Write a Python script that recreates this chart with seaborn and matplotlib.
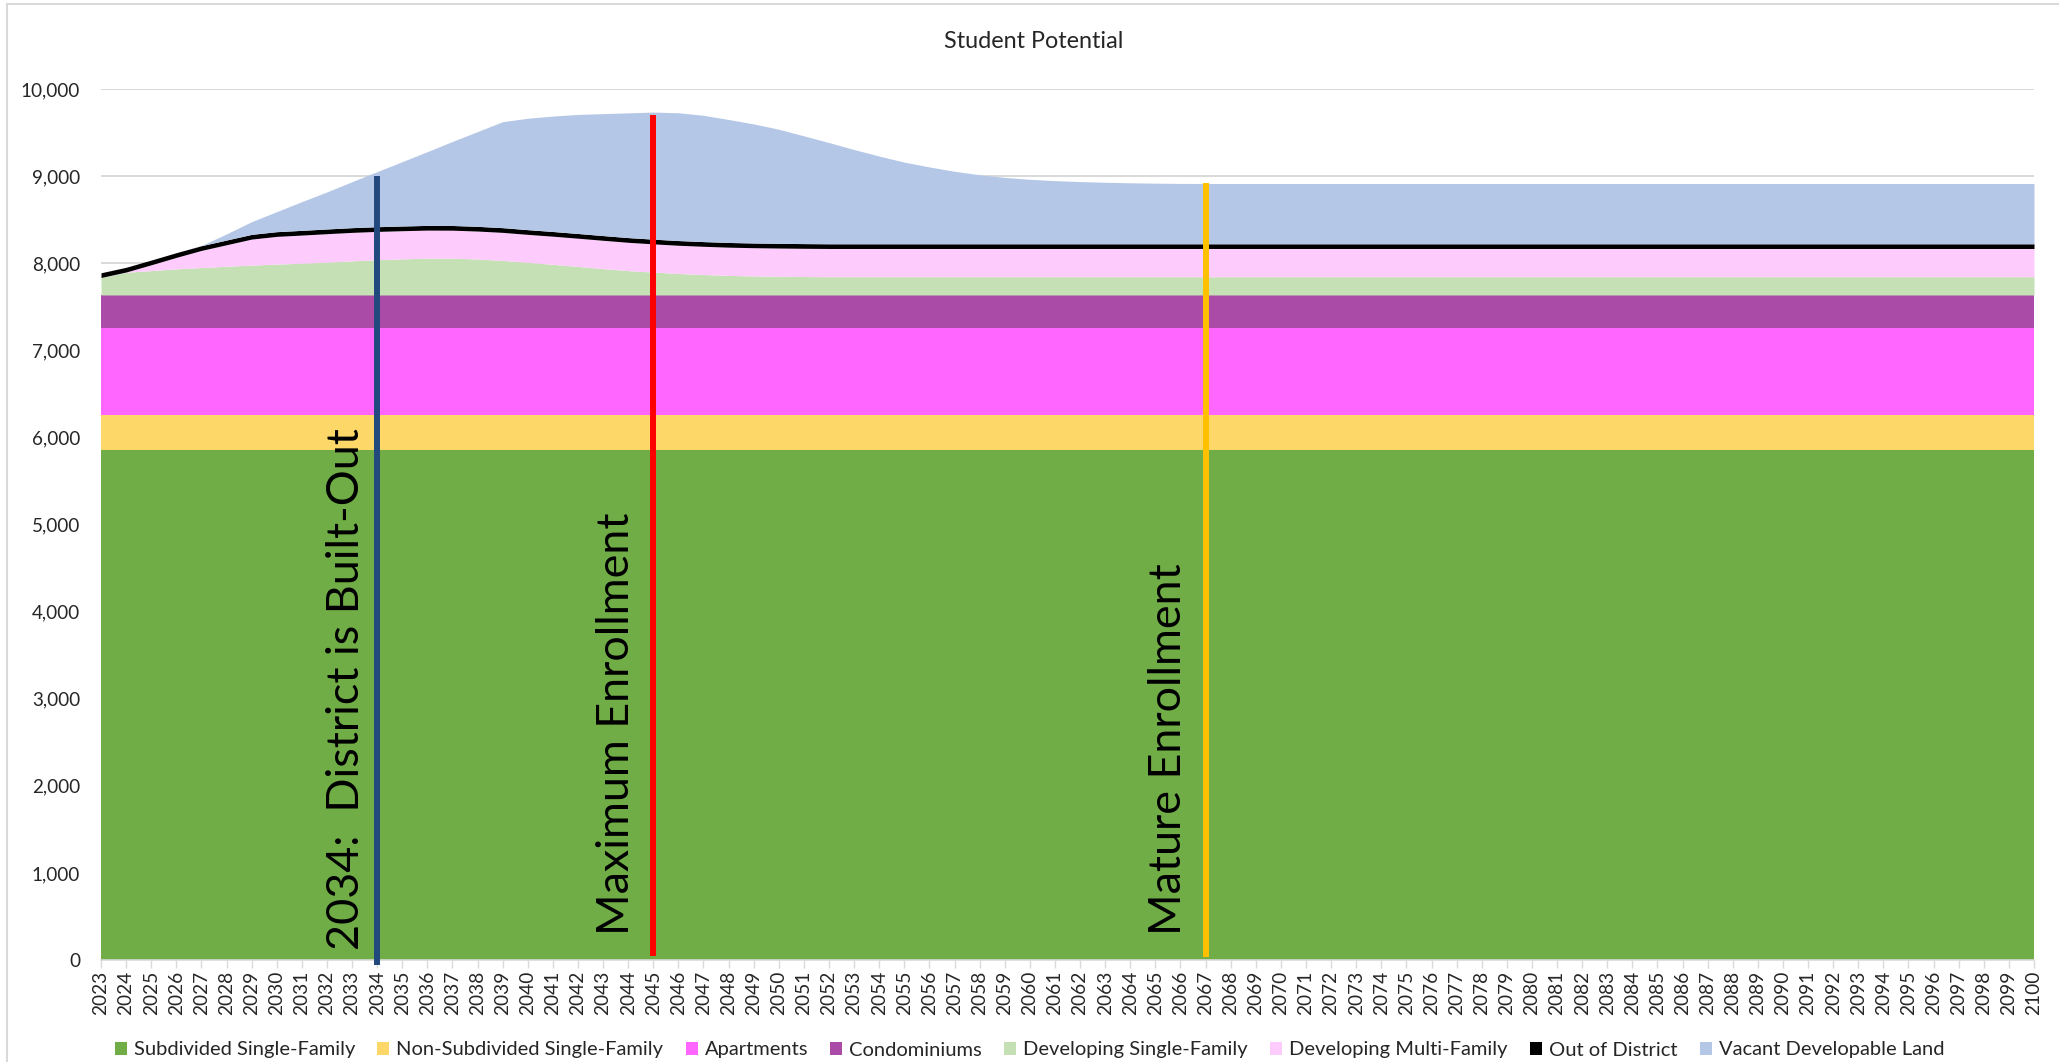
import numpy as np
import matplotlib
matplotlib.use("Agg")
import matplotlib.pyplot as plt
from matplotlib.patches import Patch
from matplotlib.lines import Line2D
from matplotlib.ticker import FuncFormatter
import seaborn as sns

# Data (students)
years = list(range(2023, 2101))
n = len(years)

subdivided_sf = [5860] * n
non_subdivided_sf = [400] * n
apartments = [1000] * n
condominiums = [375] * n
developing_sf = [201, 260, 280, 300, 315, 330, 343, 355, 365, 377,
                 392, 405, 415, 423, 423, 413, 397, 375, 352, 328,
                 303, 280, 263, 247, 235, 225, 219, 215, 212] + [210] * 49
developing_mf = [0, 4, 67, 132, 197, 247, 299, 318, 323, 327,
                 327, 325, 323, 322, 321, 321, 322, 321, 323, 324,
                 325, 325, 324, 324, 324, 324, 324, 324, 324] + [324] * 49
out_of_district = [54] * n
vacant_land = [0, 0, 0, 0, 2, 70, 146, 230, 330, 425,
               528, 632, 739, 847, 965, 1088, 1217, 1279, 1325, 1367,
               1400, 1432, 1459, 1467, 1450, 1412, 1367, 1310, 1237, 1162,
               1082, 1007, 937, 882, 832, 792, 762, 740, 725, 714,
               706, 700, 696, 693] + [692] * 34

series_names = ['Subdivided Single-Family', 'Non-Subdivided Single-Family', 'Apartments',
                'Condominiums', 'Developing Single-Family', 'Developing Multi-Family',
                'Out of District', 'Vacant Developable Land']
series_colors = ['#70AD47', '#FDD868', '#FF66FF', '#AA4BA8',
                 '#C6E0B5', '#FDCCFD', '#000000', '#B4C7E7']

# marker lines: (year, top value, bottom value, colour, label, label x, label y)
markers = [
    (2034, 9000, -60, '#22497E', '2034:  District is Built-Out', 2033.6, 110),
    (2045, 9700, 45, '#FF0000', 'Maximum Enrollment', 2044.35, 290),
    (2067, 8920, 35, '#FFC000', 'Mature Enrollment', 2066.35, 290),
]

sns.set_theme(style='white')
plt.rcParams['font.family'] = ['Lato', 'DejaVu Sans']

fig = plt.figure(figsize=(20.59, 10.62), dpi=100)
ax = fig.add_axes([101 / 2059, 1 - 960 / 1062, (2034 - 101) / 2059, (960 - 89) / 1062])

palette = sns.color_palette(series_colors)
ax.stackplot(years, subdivided_sf, non_subdivided_sf, apartments, condominiums,
             developing_sf, developing_mf, out_of_district, vacant_land,
             colors=palette, linewidth=0, zorder=2)

for yr, top, bot, col, label, tx, ty in markers:
    ax.vlines(yr, bot, top, colors=col, linewidth=4.3, zorder=4, clip_on=False)
    ax.text(tx, ty, label, rotation=90, ha='right', va='bottom', fontsize=32.3,
            color='black', zorder=5)

ax.set_xlim(2023, 2100)
ax.set_ylim(0, 10000)
ax.set_yticks(range(0, 10001, 1000))
ax.yaxis.set_major_formatter(FuncFormatter(lambda v, p: f'{int(v):,}'))
ax.set_xticks(years)
ax.set_xticklabels([str(y) for y in years], rotation=90)
ax.grid(axis='y', color='#D9D9D9', linewidth=1.4, zorder=0)
ax.set_axisbelow(True)
for s in ['left', 'right', 'top']:
    ax.spines[s].set_visible(False)
ax.spines['bottom'].set_color('#D9D9D9')
ax.spines['bottom'].set_linewidth(1.2)
ax.spines['bottom'].set_zorder(3)
ax.tick_params(axis='x', which='major', bottom=True, length=6, width=1, color='#D9D9D9',
               labelsize=13.8, pad=2)
ax.tick_params(axis='y', left=False, labelsize=13.6, pad=9)

fig.text(0.502, 1 - 42 / 1062, 'Student Potential', ha='center', va='center', fontsize=16.8)

handles = [Patch(facecolor=c, edgecolor='none') for c in series_colors]
fig.legend(handles, series_names, loc='center', bbox_to_anchor=(0.5, 1 - 1050 / 1062),
           ncol=8, frameon=False, fontsize=14.5, handlelength=0.6, handleheight=0.6,
           handletextpad=0.35, columnspacing=1.1)

# chart area border (left and top)
fig.add_artist(Line2D([7 / 2059, 7 / 2059], [0, 1 - 4 / 1062], color='#D9D9D9', lw=1.5))
fig.add_artist(Line2D([7 / 2059, 1], [1 - 4 / 1062, 1 - 4 / 1062], color='#D9D9D9', lw=1.5))

fig.savefig('out.png', dpi=100)
